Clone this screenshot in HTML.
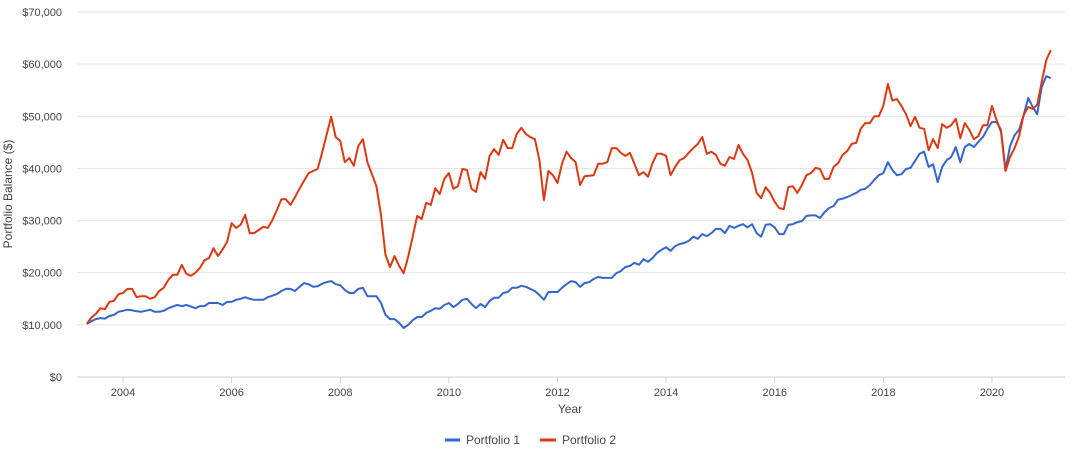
<!DOCTYPE html>
<html><head><meta charset="utf-8"><style>
body{margin:0;background:#fff;font-family:"Liberation Sans",Arial,sans-serif;}
svg text{font-family:"Liberation Sans",Arial,sans-serif;fill:#444;}
</style></head><body>
<svg id="chart" width="1083" height="455" xmlns="http://www.w3.org/2000/svg">
<g id="grid"></g>
<g id="yaxis"></g>
<g id="xaxis"></g>
<g id="series"></g>
<text transform="translate(12,194) rotate(-90)" text-anchor="middle" font-size="12">Portfolio Balance ($)</text>
<text x="570" y="413" text-anchor="middle" font-size="12">Year</text>
<g>
<g><line x1="445" y1="440" x2="460" y2="440" stroke="#3366cc" stroke-width="3"/><text x="466" y="444" font-size="12">Portfolio 1</text></g>
<g><line x1="540" y1="440" x2="556" y2="440" stroke="#dc3912" stroke-width="3"/><text x="562" y="444" font-size="12">Portfolio 2</text></g>
</g>
</svg>
<script>
const startYear = 2003 + 4/12;
const yTicks = [0,10000,20000,30000,40000,50000,60000,70000];
const yTickLabels = ["$0","$10,000","$20,000","$30,000","$40,000","$50,000","$60,000","$70,000"];
const xTicks = [2004,2006,2008,2010,2012,2014,2016,2018,2020];
const seriesNames = ["Portfolio 1","Portfolio 2"];
const portfolio1 = [10.2,10.7,11.1,11.3,11.2,11.7,11.9,12.5,12.7,12.9,12.8,12.6,12.5,12.7,12.9,12.5,12.5,12.7,13.2,13.5,13.8,13.6,13.8,13.5,13.2,13.6,13.6,14.2,14.2,14.2,13.8,14.4,14.4,14.8,15.0,15.3,15.0,14.8,14.8,14.8,15.3,15.6,15.9,16.5,16.9,16.9,16.5,17.3,18.0,17.8,17.3,17.4,17.9,18.2,18.4,17.8,17.6,16.7,16.1,16.1,16.9,17.1,15.5,15.5,15.5,14.2,11.9,11.1,11.1,10.4,9.4,
10.0,10.9,11.5,11.5,12.3,12.7,13.2,13.1,13.8,14.2,13.4,14.0,14.8,15.0,14.0,13.2,14.0,13.4,14.6,15.2,15.2,16.1,16.3,17.1,17.1,17.5,17.3,16.9,16.5,15.7,14.8,16.3,16.3,16.3,17.1,17.8,18.4,18.2,17.3,18.0,18.2,18.8,19.2,19.0,19.0,19.0,19.9,20.3,21.1,21.3,21.9,21.5,22.6,22.1,22.8,23.8,24.4,24.9,24.2,25.1,25.5,25.7,26.1,26.9,26.5,27.4,27.0,27.6,28.4,28.4,27.6,29.0,
28.6,29.0,29.3,28.7,29.3,27.6,26.9,29.2,29.3,28.7,27.4,27.4,29.2,29.3,29.7,29.9,30.9,31.0,31.0,30.5,31.6,32.4,32.8,34.0,34.2,34.5,34.9,35.3,35.9,36.1,36.8,37.8,38.7,39.1,41.2,39.7,38.7,38.9,39.9,40.1,41.4,42.8,43.2,40.3,40.8,37.4,40.3,41.6,42.2,44.1,41.2,44.1,44.7,44.1,45.1,46.0,47.6,48.9,48.9,47.4,39.7,44.3,46.4,47.4,50.2,53.5,51.8,50.4,55.6,57.7,57.3];
const portfolio2 = [10.2,11.4,12.1,13.2,13.0,14.4,14.6,15.9,16.1,16.9,16.9,15.3,15.5,15.5,15.0,15.3,16.5,17.1,18.6,19.6,19.6,21.5,19.8,19.4,20.0,20.9,22.4,22.8,24.7,23.2,24.5,25.9,29.5,28.6,29.2,31.1,27.6,27.6,28.2,28.8,28.6,30.1,32.0,34.1,34.1,33.0,34.5,36.1,37.6,39.1,39.5,39.9,43.0,46.5,49.9,46.0,45.3,41.2,42.0,40.5,44.3,45.6,41.2,38.9,36.6,31.1,23.4,21.1,23.2,21.3,19.9,
23.0,26.9,30.9,30.3,33.4,33.0,36.2,35.1,38.0,39.1,36.1,36.6,39.9,39.7,36.1,35.5,39.3,38.0,42.4,43.7,42.6,45.5,43.9,43.9,46.6,47.8,46.6,46.0,45.6,41.6,33.9,39.5,38.7,37.2,40.9,43.2,42.0,41.2,36.8,38.5,38.6,38.7,40.9,40.9,41.2,43.9,43.9,43.0,42.4,43.0,40.9,38.7,39.3,38.4,41.0,42.8,42.8,42.4,38.7,40.3,41.6,42.0,43.0,43.9,44.7,46.0,42.8,43.2,42.6,40.9,40.5,42.2,
41.8,44.5,42.8,41.6,39.1,35.3,34.3,36.4,35.3,33.6,32.4,32.2,36.4,36.6,35.3,36.8,38.7,39.1,40.1,39.9,38.0,38.0,40.3,41.0,42.6,43.3,44.7,44.9,47.6,48.7,48.7,50.0,50.0,52.0,56.2,53.0,53.3,52.0,50.4,48.1,49.9,47.8,47.6,43.5,45.6,43.9,48.5,47.8,48.3,49.5,45.8,48.7,47.4,45.6,46.2,48.3,48.3,52.0,49.3,47.0,39.5,42.2,43.9,46.2,50.2,51.8,51.4,52.2,56.6,60.8,62.7];

const NS="http://www.w3.org/2000/svg";
const left=77,right=1065,y0=377,y1=12;
function xScale(yr){return 123+(yr-2004)*54.31;}
function yScale(v){return y0-(v/70000)*(y0-y1);}
function mk(tag,attrs,parent){const e=document.createElementNS(NS,tag);for(const k in attrs)e.setAttribute(k,attrs[k]);parent.appendChild(e);return e;}
const grid=document.getElementById('grid'),ya=document.getElementById('yaxis'),xa=document.getElementById('xaxis'),sg=document.getElementById('series');
yTicks.forEach((t,i)=>{
  const y=yScale(t);
  const l=mk('line',{x1:left,x2:right,y1:y,y2:y,stroke:i===0?'#c9d3e3':'#e3e3e3','stroke-width':1},grid);
  
  
  const tx=mk('text',{x:62,y:y+4,'text-anchor':'end','font-size':11},ya);
  tx.textContent=yTickLabels[i];
  
  
});
xTicks.forEach(t=>{
  const x=xScale(t);
  const tk=mk('line',{x1:x,x2:x,y1:y0,y2:y0+6,stroke:'#c9d3e3','stroke-width':1},xa);
  
  
  const tx=mk('text',{x:x,y:396,'text-anchor':'middle','font-size':11},xa);
  tx.textContent=String(t);
  
  
});
function drawLine(vals,color,name){
  const pts=vals.map((v,i)=>xScale(startYear+i/12).toFixed(1)+','+yScale(v*1000).toFixed(1)).join(' ');
  const p=mk('polyline',{points:pts,fill:'none',stroke:color,'stroke-width':2,'stroke-linejoin':'round'},sg);
  
  
}
drawLine(portfolio1,'#3366cc','line-portfolio-1');
drawLine(portfolio2,'#dc3912','line-portfolio-2');
</script>
</body></html>
